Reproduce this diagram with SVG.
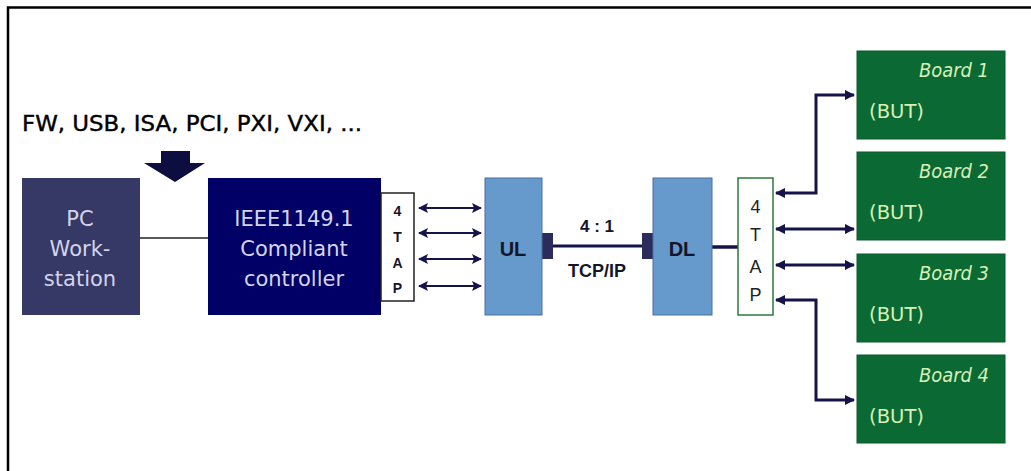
<svg xmlns="http://www.w3.org/2000/svg" width="1031" height="471" viewBox="0 0 1031 471">
<defs>
<style>
.lbl{font-family:"DejaVu Sans","Liberation Sans",sans-serif}
.pcbox{fill:#363866}
.ctrl{fill:#000066}
.blue{fill:#6699CC;stroke:#4a6fa0;stroke-width:1}
.board{fill:#0B6A33;stroke:#0a5a2a;stroke-width:1}
.wtxt{fill:#D4D4EC;font-size:21px;text-anchor:middle}
.btxt{fill:#D8F0B8;font-size:19px}
.conn{stroke:#14144a;fill:none}
.bold{font-family:"Liberation Sans",Arial,sans-serif;font-weight:bold;fill:#15152a}
</style>
<marker id="ah" viewBox="0 0 10 10" refX="9" refY="5" markerWidth="5" markerHeight="5" orient="auto-start-reverse" markerUnits="strokeWidth">
<path d="M0,0 L10,5 L0,10 L2,5 z" fill="#14144a"/>
</marker>
<marker id="ah2" viewBox="0 0 10 10" refX="9" refY="5" markerWidth="3.5" markerHeight="3.5" orient="auto-start-reverse" markerUnits="strokeWidth">
<path d="M0,0 L10,5 L0,10 z" fill="#14144a"/>
</marker>
</defs>
<rect width="1031" height="471" fill="#ffffff"/>
<path d="M8,471 V7.5 H1031" fill="none" stroke="#000" stroke-width="2.5"/>

<text class="lbl" x="22" y="131" font-size="21" fill="#000" stroke="#000" stroke-width="0.4" textLength="340" lengthAdjust="spacingAndGlyphs">FW, USB, ISA, PCI, PXI, VXI, ...</text>
<path d="M161,151 H190 V163 H205 L175,182 L144,163 H161 Z" fill="#0D0D40"/>

<g id="connectors">
<line x1="140" y1="238" x2="208" y2="238" stroke="#222" stroke-width="1.5"/>
<line class="conn" x1="419" y1="208" x2="481" y2="208" stroke-width="2" marker-start="url(#ah)" marker-end="url(#ah)"/>
<line class="conn" x1="419" y1="233" x2="481" y2="233" stroke-width="2" marker-start="url(#ah)" marker-end="url(#ah)"/>
<line class="conn" x1="419" y1="259" x2="481" y2="259" stroke-width="2" marker-start="url(#ah)" marker-end="url(#ah)"/>
<line class="conn" x1="419" y1="286" x2="481" y2="286" stroke-width="2" marker-start="url(#ah)" marker-end="url(#ah)"/>
<rect x="542" y="233" width="11" height="26" fill="#2c2c5c"/>
<rect x="642" y="233" width="11" height="26" fill="#2c2c5c"/>
<line x1="553" y1="246" x2="642" y2="246" stroke="#14144a" stroke-width="3"/>
<line x1="712" y1="247" x2="738" y2="247" stroke="#14144a" stroke-width="3.5"/>
<polyline class="conn" points="776,193 816,193 816,95 854,95" stroke-width="3" marker-start="url(#ah2)" marker-end="url(#ah2)"/>
<line class="conn" x1="776" y1="229" x2="854" y2="229" stroke-width="3" marker-start="url(#ah2)" marker-end="url(#ah2)"/>
<line class="conn" x1="776" y1="265" x2="854" y2="265" stroke-width="3" marker-start="url(#ah2)" marker-end="url(#ah2)"/>
<polyline class="conn" points="776,300 816,300 816,400 854,400" stroke-width="3" marker-start="url(#ah2)" marker-end="url(#ah2)"/>
</g>

<g id="pc">
<rect class="pcbox" x="22" y="178" width="118" height="137"/>
<text class="lbl wtxt" x="80" y="226">PC</text>
<text class="lbl wtxt" x="80" y="256">Work-</text>
<text class="lbl wtxt" x="80" y="286">station</text>
</g>

<g id="controller">
<rect class="ctrl" x="208" y="178" width="173" height="137"/>
<text class="lbl wtxt" x="294" y="226">IEEE1149.1</text>
<text class="lbl wtxt" x="294" y="256">Compliant</text>
<text class="lbl wtxt" x="294" y="286">controller</text>
</g>

<g id="tap1">
<rect x="381" y="193" width="33" height="108" fill="#fff" stroke="#222" stroke-width="1.5"/>
<text class="bold" x="397.5" y="216" font-size="14" text-anchor="middle">4</text>
<text class="bold" x="397.5" y="242" font-size="14" text-anchor="middle">T</text>
<text class="bold" x="397.5" y="268" font-size="14" text-anchor="middle">A</text>
<text class="bold" x="397.5" y="293" font-size="14" text-anchor="middle">P</text>
</g>

<g id="ul">
<rect class="blue" x="485" y="178" width="57" height="137"/>
<text class="bold" x="513" y="256" font-size="20" text-anchor="middle">UL</text>
</g>

<g id="link-labels">
<text class="bold" x="597" y="232" font-size="17" text-anchor="middle">4 : 1</text>
<text class="bold" x="597" y="277" font-size="18" text-anchor="middle">TCP/IP</text>
</g>

<g id="dl">
<rect class="blue" x="653" y="178" width="59" height="137"/>
<text class="bold" x="682" y="256" font-size="20" text-anchor="middle">DL</text>
</g>

<g id="tap2">
<rect x="738" y="178" width="35" height="137" fill="#fff" stroke="#2a7a3a" stroke-width="1.5"/>
<text x="755.5" y="213" font-family="Liberation Sans,Arial,sans-serif" font-size="18" fill="#222" text-anchor="middle">4</text>
<text x="755.5" y="241" font-family="Liberation Sans,Arial,sans-serif" font-size="18" fill="#222" text-anchor="middle">T</text>
<text x="755.5" y="273" font-family="Liberation Sans,Arial,sans-serif" font-size="18" fill="#222" text-anchor="middle">A</text>
<text x="755.5" y="301" font-family="Liberation Sans,Arial,sans-serif" font-size="18" fill="#222" text-anchor="middle">P</text>
</g>

<g id="board1">
<rect class="board" x="857" y="51" width="148" height="88"/>
<text class="lbl btxt" x="989" y="77" text-anchor="end" font-style="italic" textLength="70" lengthAdjust="spacingAndGlyphs">Board 1</text>
<text class="lbl btxt" x="869" y="118" textLength="55" lengthAdjust="spacingAndGlyphs">(BUT)</text>
</g>
<g id="board2">
<rect class="board" x="857" y="152" width="148" height="88"/>
<text class="lbl btxt" x="989" y="178" text-anchor="end" font-style="italic" textLength="70" lengthAdjust="spacingAndGlyphs">Board 2</text>
<text class="lbl btxt" x="869" y="219" textLength="55" lengthAdjust="spacingAndGlyphs">(BUT)</text>
</g>
<g id="board3">
<rect class="board" x="857" y="254" width="148" height="88"/>
<text class="lbl btxt" x="989" y="280" text-anchor="end" font-style="italic" textLength="70" lengthAdjust="spacingAndGlyphs">Board 3</text>
<text class="lbl btxt" x="869" y="321" textLength="55" lengthAdjust="spacingAndGlyphs">(BUT)</text>
</g>
<g id="board4">
<rect class="board" x="857" y="355" width="148" height="88"/>
<text class="lbl btxt" x="989" y="382" text-anchor="end" font-style="italic" textLength="70" lengthAdjust="spacingAndGlyphs">Board 4</text>
<text class="lbl btxt" x="869" y="423" textLength="55" lengthAdjust="spacingAndGlyphs">(BUT)</text>
</g>
</svg>
